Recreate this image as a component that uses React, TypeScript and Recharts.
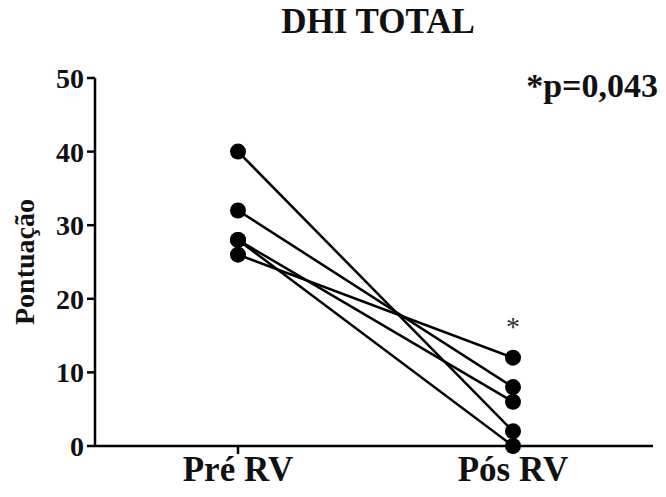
import { LineChart, Line, XAxis, YAxis, Label } from "recharts";

const categories = ["Pré RV", "Pós RV"];
// one entry per patient
const preScores = [40, 32, 28, 28, 26];
const postScores = [2, 8, 6, 0, 12];
const yTicks = [0, 10, 20, 30, 40, 50];

const keys = preScores.map((_, i) => `p${i + 1}`);
const data = categories.map((name, c) => {
  const row: Record<string, string | number> = { name };
  keys.forEach((k, i) => {
    row[k] = c === 0 ? preScores[i] : postScores[i];
  });
  return row;
});

const font = "'Liberation Serif', 'Times New Roman', serif";

function StarLabel(props: any) {
  const { x, y, index } = props;
  if (index !== 1) return null;
  return (
    <text x={x} y={y - 22} textAnchor="middle" fontFamily={font} fontSize={28} fill="#333">
      *
    </text>
  );
}

export default function App() {
  return (
    <div style={{ position: "absolute", left: 0, top: 0, width: 666, height: 497, background: "#fff" }}>
      <div
        style={{
          position: "absolute",
          left: 228,
          top: 2,
          width: 300,
          textAlign: "center",
          fontFamily: font,
          fontWeight: "bold",
          fontSize: 35,
          lineHeight: "40px",
          color: "#111",
        }}
      >
        DHI TOTAL
      </div>
      <div
        style={{
          position: "absolute",
          left: 460,
          top: 66,
          width: 198,
          textAlign: "right",
          fontFamily: font,
          fontWeight: "bold",
          fontSize: 34,
          lineHeight: "40px",
          color: "#111",
        }}
      >
        *p=0,043
      </div>
      <LineChart
        width={666}
        height={497}
        data={data}
        margin={{ top: 78, right: 13, left: 40, bottom: 0 }}
      >
        <XAxis
          dataKey="name"
          scale="point"
          padding={{ left: 143, right: 140 }}
          height={51}
          axisLine={{ stroke: "#000", strokeWidth: 2.5 }}
          tickLine={{ stroke: "#000", strokeWidth: 2.5 }}
          tickSize={8}
          tick={{ fontFamily: font, fontWeight: "bold", fontSize: 35, fill: "#111" }}
          tickMargin={2}
        />
        <YAxis
          width={55}
          domain={[0, 50]}
          ticks={yTicks}
          interval={0}
          axisLine={{ stroke: "#000", strokeWidth: 2.5 }}
          tickLine={{ stroke: "#000", strokeWidth: 2.5 }}
          tickSize={8}
          tickMargin={3}
          tick={{ fontFamily: font, fontWeight: "bold", fontSize: 28, fill: "#111" }}
        >
          <Label
            value="Pontuação"
            angle={-90}
            position="insideLeft"
            offset={-16}
            style={{ fontFamily: font, fontWeight: "bold", fontSize: 28, fill: "#111", textAnchor: "middle" }}
          />
        </YAxis>
        {keys.map((k, i) => (
          <Line
            key={k}
            dataKey={k}
            stroke="#000"
            strokeWidth={2.5}
            dot={{ r: 8, fill: "#000", stroke: "#000", strokeWidth: 0 }}
            isAnimationActive={false}
            label={i === 4 ? <StarLabel /> : undefined}
          />
        ))}
      </LineChart>
    </div>
  );
}
